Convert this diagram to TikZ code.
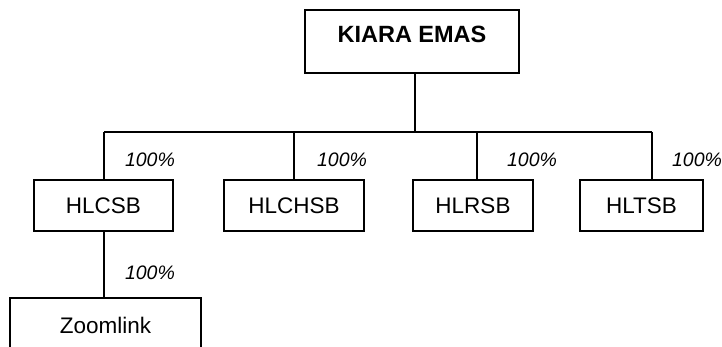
\documentclass[tikz,border=0pt]{standalone}
\usepackage{fontspec}
\setmainfont{Liberation Sans}
\begin{document}
\begin{tikzpicture}[x=1pt,y=-1pt,
  box/.style={draw, line width=1.4pt, inner sep=0pt, font=\fontsize{22.5}{24}\selectfont},
  pct/.style={font=\itshape\fontsize{19.5}{21}\selectfont, inner sep=0pt},
  conn/.style={line width=1.4pt}]
\useasboundingbox (0,0) rectangle (722,347);
\clip (0,0) rectangle (722,347);
\fill[white] (0,0) rectangle (722,347);
\node[box, minimum width=214pt, minimum height=63pt, text depth=15pt, font=\bfseries\fontsize{23.5}{25}\selectfont] (kiara) at (412,41.5) {KIARA EMAS};
\node[box, minimum width=139pt, minimum height=51pt] (hlcsb) at (103.5,205.5) {HLCSB};
\node[box, minimum width=140pt, minimum height=51pt] (hlchsb) at (294,205.5) {HLCHSB};
\node[box, minimum width=120pt, minimum height=51pt] (hlrsb) at (473,205.5) {HLRSB};
\node[box, minimum width=123pt, minimum height=51pt] (hltsb) at (641.5,205.5) {HLTSB};
\node[box, minimum width=191pt, minimum height=54pt] (zoom) at (105.5,325) {Zoomlink};
\coordinate (j) at (415,132);
\coordinate (b1) at (104,132);
\coordinate (b2) at (294,132);
\coordinate (b3) at (477,132);
\coordinate (b4) at (652,132);
\draw[conn] (kiara.south -| j) -- (j);
\draw[conn] (b1) -- (b4);
\draw[conn] (b1) -- (b1 |- hlcsb.north);
\draw[conn] (b2) -- (b2 |- hlchsb.north);
\draw[conn] (b3) -- (b3 |- hlrsb.north);
\draw[conn] (b4) -- (b4 |- hltsb.north);
\draw[conn] (hlcsb.south -| b1) -- (zoom.north -| b1);
\node[pct] (p1) at (150,160) {100\%};
\node[pct] (p2) at (342,160) {100\%};
\node[pct] (p3) at (532,160) {100\%};
\node[pct] (p4) at (697,160) {100\%};
\node[pct] (p5) at (150,273) {100\%};
\end{tikzpicture}
\end{document}
